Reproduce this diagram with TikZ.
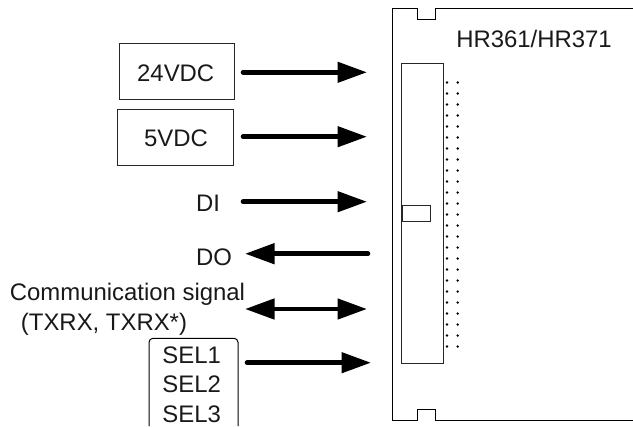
\documentclass[tikz,border=0pt]{standalone}
\usepackage{fontspec}
\setmainfont{Liberation Sans}
\usetikzlibrary{arrows.meta}
\tikzset{
  lbl/.style={anchor=base,inner sep=0pt,outer sep=0pt,font=\fontsize{24}{26}\selectfont,text=black!90},
  box/.style={draw=black!85,line width=1bp,inner sep=0pt,outer sep=0pt,fill=none},
  thin line/.style={draw=black,line width=1bp},
  sig/.style={line width=4.6bp,line cap=round,-{Triangle[length=29.5bp,width=20bp]}},
  sigboth/.style={line width=4.6bp,{Triangle[length=29.5bp,width=20bp]}-{Triangle[length=29.5bp,width=20bp]}},
  pin/.style={circle,fill=black,inner sep=0pt,minimum size=2.6bp}
}
\begin{document}
\begin{tikzpicture}[x=1bp,y=-1bp]
\useasboundingbox (0,0) rectangle (633,426);
% board outline
\draw[thin line] (633,8) -- (435.5,8) -- (435.5,19) -- (417,19) -- (417,8) -- (392.7,8)
  -- (392.7,420) -- (417,420) -- (417,409) -- (435.5,409) -- (435.5,420) -- (633,420);
\node[lbl] (board) at (534,47.3) {HR361/HR371};
% connector
\node[box,minimum width=41.5bp,minimum height=299.5bp] (conn) at (422.25,213.25) {};
\node[box,minimum width=28bp,minimum height=16bp] (key) at (416.5,213.5) {};
% pins
\foreach \r in {0,...,24}{
  \node[pin] (pa\r) at (447,82.5+11*\r) {};
  \node[pin] (pb\r) at (457.7,82.5+11*\r) {};
}
% sources
\node[box,minimum width=115bp,minimum height=56bp] (b24) at (177.2,71) {};
\node[lbl] (t24) at (175.7,81) {24VDC};
\node[box,minimum width=116.5bp,minimum height=56bp] (b5) at (175.25,137.7) {};
\node[lbl] (t5) at (176,146.7) {5VDC};
\node[lbl] (tdi) at (208,211.7) {DI};
\node[lbl] (tdo) at (214,265.7) {DO};
\node[lbl] (tc1) at (127.5,300.3) {Communication signal};
\node[lbl] (tc2) at (104,330.3) {(TXRX, TXRX*)};
\draw[thin line,rounded corners=4bp] (149,426) -- (149,338.3) -- (238,338.3) -- (238,426);
\node[lbl] (s1) at (191.7,363) {SEL1};
\node[lbl] (s2) at (191.7,392.3) {SEL2};
\node[lbl] (s3) at (191.7,422) {SEL3};
% arrow ends
\coordinate (a1s) at (243,72.3);   \coordinate (a1e) at (367,72.3);
\coordinate (a2s) at (243,136.7);  \coordinate (a2e) at (367,136.7);
\coordinate (a3s) at (243,201.7);  \coordinate (a3e) at (367,201.7);
\coordinate (a4s) at (368,253.7);  \coordinate (a4e) at (245,253.7);
\coordinate (a5s) at (245,309);    \coordinate (a5e) at (367,309);
\coordinate (a6s) at (247,362.7);  \coordinate (a6e) at (371,362.7);
\draw[sig] (a1s) -- (a1e);
\draw[sig] (a2s) -- (a2e);
\draw[sig] (a3s) -- (a3e);
\draw[sig] (a4s) -- (a4e);
\draw[sigboth] (a5s) -- (a5e);
\draw[sig] (a6s) -- (a6e);
\end{tikzpicture}
\end{document}
